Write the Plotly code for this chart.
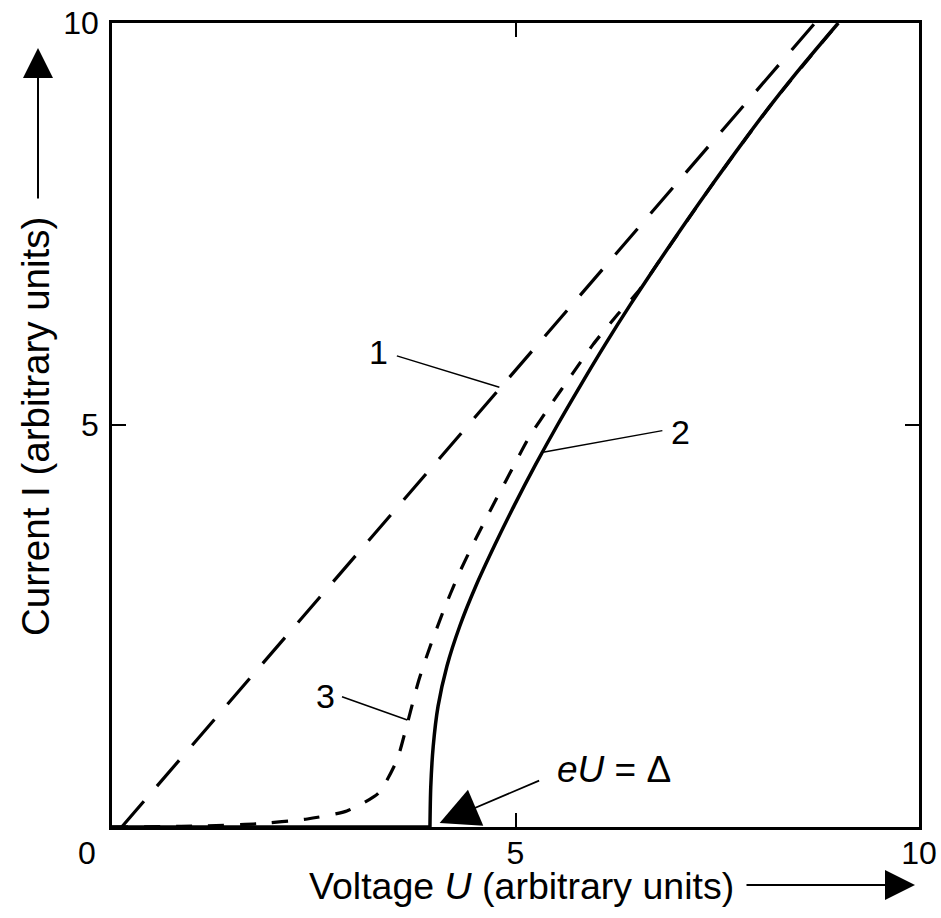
import plotly.graph_objects as go

# Curve 1: normal-state (ohmic) characteristic, long dashes
U1 = [0.12, 4.80, 8.71]
I1 = [0.0, 5.45, 10.0]

# Curve 2: superconductor tunnel characteristic at T = 0, solid
U2_flat = [0.0, 3.94]
I2_flat = [0.0, 0.0]
U2 = [3.94, 3.95, 3.98, 4.04, 4.15, 4.31, 4.51, 4.74, 4.985, 5.245, 5.52, 5.81, 6.11, 6.425,
      6.755, 7.095, 7.445, 7.805, 8.18, 8.58, 9.00]
I2 = [0.0, 0.5, 1.0, 1.5, 2.0, 2.5, 3.0, 3.5, 4.0, 4.5, 5.0, 5.5, 6.0, 6.5,
      7.0, 7.5, 8.0, 8.5, 9.0, 9.5, 10.0]

# Curve 3: finite temperature, short dashes
U3 = [0.0, 1.0, 1.8, 2.42, 2.91, 3.30, 3.53, 3.66, 3.80, 3.94, 4.10, 4.29, 4.50, 4.71, 4.93, 5.17,
      5.43, 5.70, 5.96, 6.27, 6.52, 6.755, 7.445, 8.18, 9.00]
I3 = [0.0, 0.01, 0.04, 0.10, 0.20, 0.42, 0.83, 1.29, 1.82, 2.24, 2.67, 3.13, 3.57, 3.98, 4.40, 4.85,
      5.24, 5.63, 6.00, 6.38, 6.66, 7.0, 8.0, 9.0, 10.0]

x_ticks = [5, 10]
y_ticks = [5, 10]

FONT = "Liberation Sans, Arial, sans-serif"

fig = go.Figure()
fig.add_trace(go.Scatter(x=U2_flat, y=I2_flat, mode="lines", line=dict(color="black", width=3.5),
                         hoverinfo="skip"))
fig.add_trace(go.Scatter(x=U2, y=I2, mode="lines", line_shape="spline",
                         line=dict(color="black", width=3.5, smoothing=0.8), hoverinfo="skip"))
fig.add_trace(go.Scatter(x=U1, y=I1, mode="lines",
                         line=dict(color="black", width=3.2, dash="34px,20px"), hoverinfo="skip"))
fig.add_trace(go.Scatter(x=U3, y=I3, mode="lines", line_shape="spline",
                         line=dict(color="black", width=3.2, dash="16px,16px", smoothing=0.6),
                         hoverinfo="skip"))

W, H = 941, 918
L, R, T, B = 112, 22, 23, 91
pw, ph = W - L - R, H - T - B


def px(x):
    return (x - L) / pw


def py(y):
    return (H - B - y) / ph


C = dict(xanchor="center", yanchor="middle")
ann = []
# curve labels
ann.append(dict(x=3.30, y=5.91, text="1", showarrow=False, font=dict(size=34), **C))
ann.append(dict(x=7.04, y=4.91, text="2", showarrow=False, font=dict(size=34), **C))
ann.append(dict(x=2.65, y=1.63, text="3", showarrow=False, font=dict(size=34), **C))
ann.append(dict(x=6.22, y=0.71, text="<i>eU</i> = Δ", showarrow=False, font=dict(size=37), **C))
# eU = Δ arrow
ann.append(dict(x=4.06, y=0.05, text="", showarrow=True, arrowhead=2, arrowsize=4.6,
                arrowwidth=1.7, ax=101, ay=-43, arrowcolor="black"))
# x-axis "0"
ann.append(dict(xref="paper", yref="paper", x=px(87), y=py(853), text="0", showarrow=False,
                font=dict(size=32), **C))
# axis titles
ann.append(dict(xref="paper", yref="paper", x=px(521), y=py(886), text="Voltage <i>U</i> (arbitrary units)",
                showarrow=False, font=dict(size=37.5), **C))
ann.append(dict(xref="paper", yref="paper", x=px(35), y=py(427), text="Current I (arbitrary units)",
                showarrow=False, textangle=-90, font=dict(size=38.5), **C))
# axis-direction arrows
ann.append(dict(xref="paper", yref="paper", x=px(915), y=py(885), text="", showarrow=True, arrowhead=2,
                arrowsize=3, arrowwidth=2, ax=-170, ay=0, arrowcolor="black"))
ann.append(dict(xref="paper", yref="paper", x=px(38), y=py(48), text="", showarrow=True, arrowhead=2,
                arrowsize=3, arrowwidth=2, ax=0, ay=152, arrowcolor="black"))

shapes = [
    dict(type="line", x0=3.53, y0=5.86, x1=4.80, y1=5.47, line=dict(color="black", width=1.5)),
    dict(type="line", x0=6.82, y0=4.93, x1=5.34, y1=4.66, line=dict(color="black", width=1.5)),
    dict(type="line", x0=2.85, y0=1.62, x1=3.66, y1=1.33, line=dict(color="black", width=1.5)),
]

axis_common = dict(range=[0, 10], showgrid=False, zeroline=False, showline=True, linecolor="black",
                   linewidth=2.5, mirror="ticks", ticks="inside", ticklen=14, tickwidth=1.5,
                   tickcolor="black", tickfont=dict(size=32, color="black", family=FONT),
                   fixedrange=True, automargin=False)

fig.update_layout(
    width=W, height=H,
    margin=dict(l=L, r=R, t=T, b=B, pad=0, autoexpand=False),
    paper_bgcolor="white", plot_bgcolor="white",
    showlegend=False,
    font=dict(family=FONT, color="black"),
    xaxis=dict(axis_common, tickvals=x_ticks, ticklabelstandoff=-4),
    yaxis=dict(axis_common, tickvals=y_ticks, ticklabelstandoff=4),
    annotations=ann,
    shapes=shapes,
)

fig.write_html("out.html")
